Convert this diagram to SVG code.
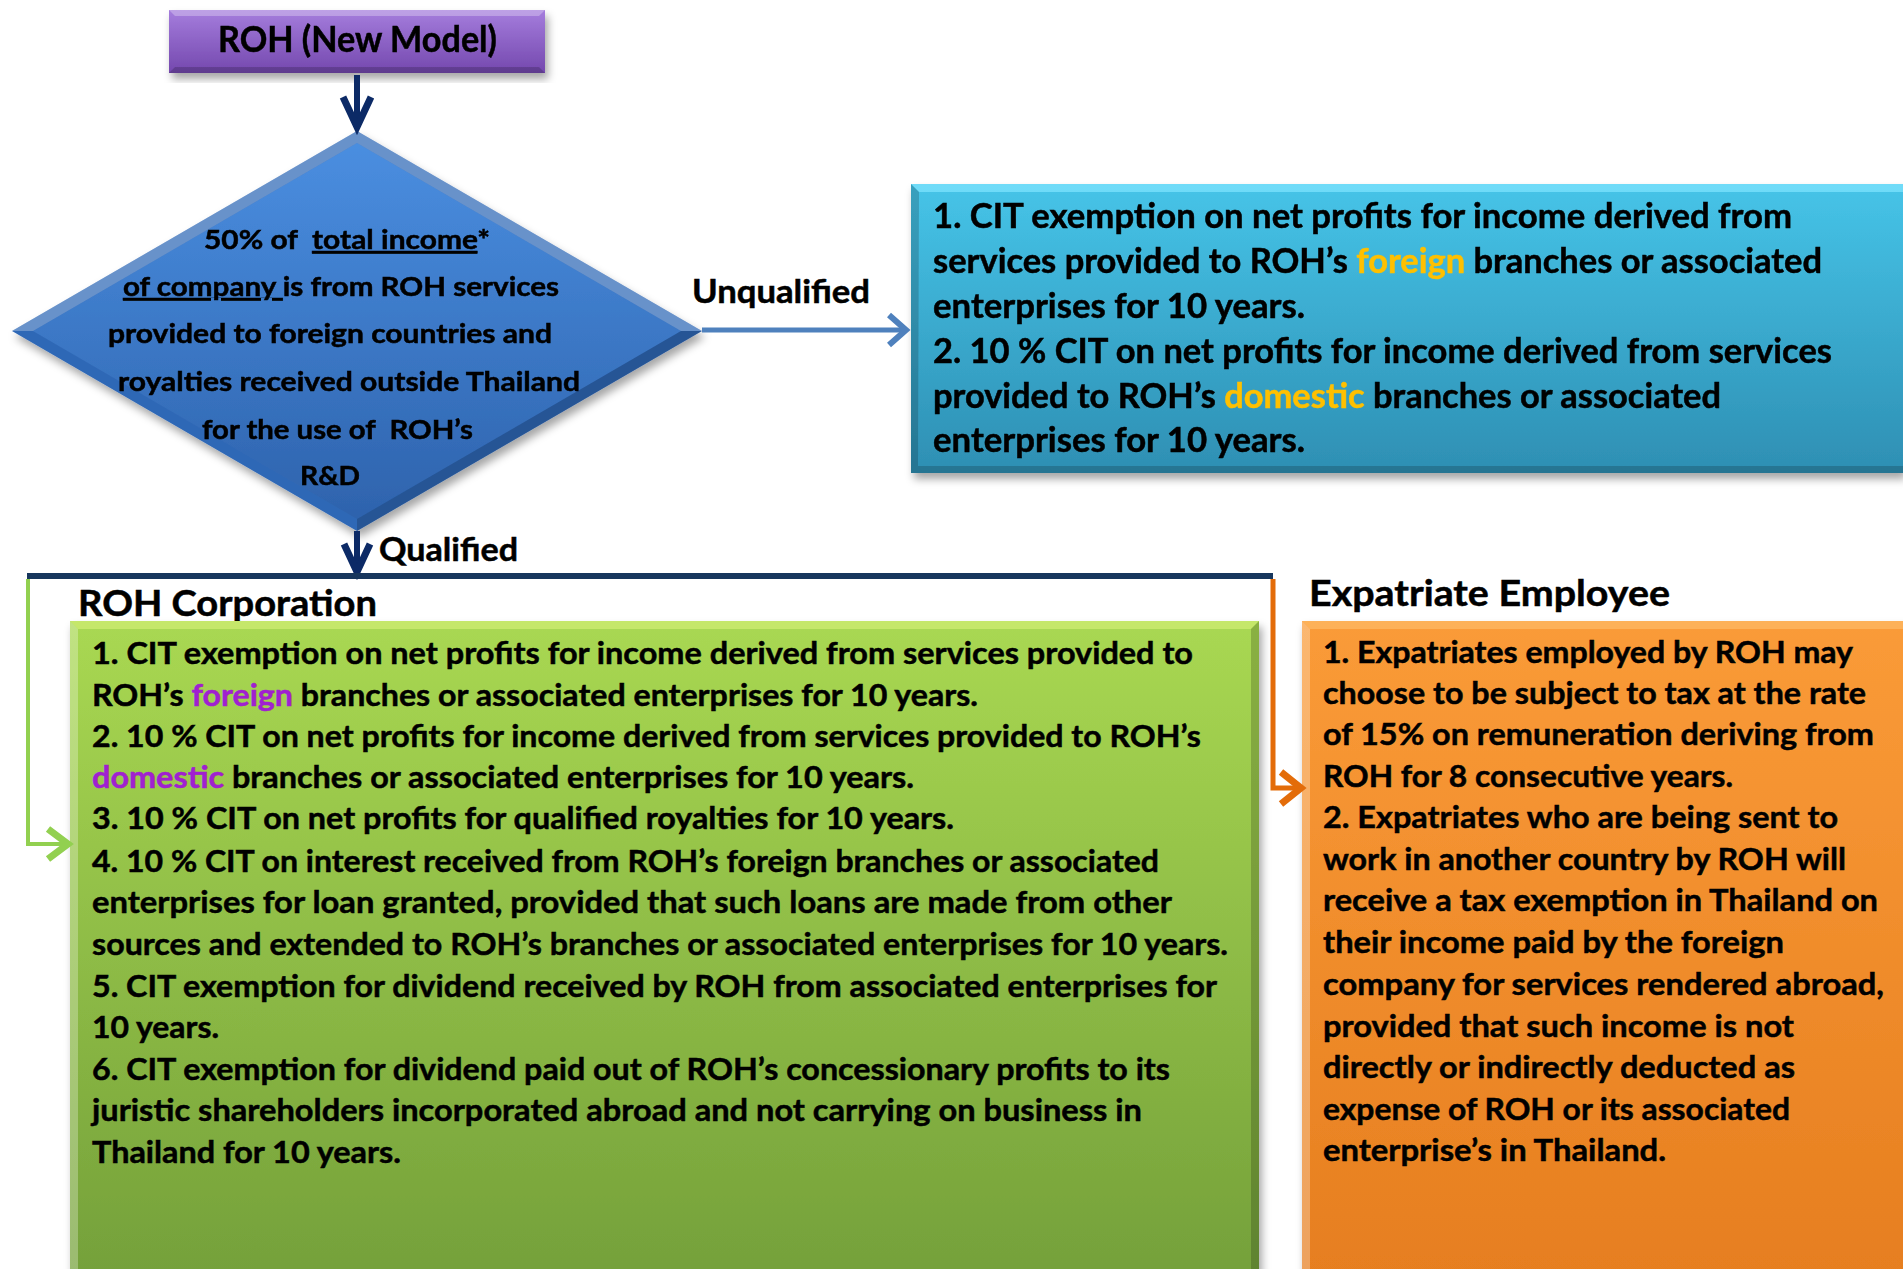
<svg xmlns="http://www.w3.org/2000/svg" width="1903" height="1269" viewBox="0 0 1903 1269">
<style>
text{font-family:Lato,"Open Sans","Liberation Sans",sans-serif;font-weight:700;fill:#000;stroke:#000;stroke-width:0.5;white-space:pre}
.dia{font-size:27px}
.blue{font-size:34px}
.body{font-size:31px}
.title{font-size:37px}
.lbl{font-size:33px}
.ul{text-decoration:underline}
.yel{fill:#ffc000;stroke:#ffc000}
.pur{fill:#a020d0;stroke:#a020d0}
.conn{fill:none;stroke-linecap:butt;stroke-linejoin:miter}
.hl{fill:#ffffff;opacity:0.28}
.dk{fill:#000000;opacity:0.18}
</style>
<defs>
<filter id="sh" x="-5%" y="-5%" width="115%" height="120%">
<feDropShadow dx="3" dy="6" stdDeviation="4" flood-color="#000" flood-opacity="0.35"/>
</filter>
<linearGradient id="gPur" x1="0" y1="0" x2="0" y2="1">
<stop offset="0" stop-color="#a57ddd"/><stop offset="1" stop-color="#7448ae"/>
</linearGradient>
<linearGradient id="gDia" x1="0" y1="0" x2="0" y2="1">
<stop offset="0" stop-color="#4a8ee0"/><stop offset="1" stop-color="#2e63ad"/>
</linearGradient>
<linearGradient id="gBlue" x1="0" y1="0" x2="0" y2="1">
<stop offset="0" stop-color="#46c4e8"/><stop offset="1" stop-color="#2e8fb3"/>
</linearGradient>
<linearGradient id="gGreen" x1="0" y1="0" x2="0" y2="1">
<stop offset="0" stop-color="#a9d852"/><stop offset="1" stop-color="#74a03a"/>
</linearGradient>
<linearGradient id="gOrange" x1="0" y1="0" x2="0" y2="1">
<stop offset="0" stop-color="#fa9b38"/><stop offset="1" stop-color="#e67e1f"/>
</linearGradient>
</defs>

<g id="roh-new-model" filter="url(#sh)">
<rect x="169" y="10" width="376" height="63" fill="url(#gPur)"/>
<polygon class="hl" points="169,10 545,10 539,16 175,16"/>
<polygon class="dk" points="169,73 545,73 539,67 175,67"/>
<text class="title" x="218" y="52" textLength="279" lengthAdjust="spacingAndGlyphs">ROH (New Model)</text>
</g>

<g id="decision" filter="url(#sh)">
<polygon points="357,131 702,331 357,531 12,331" fill="#2f68b6"/>
<polygon points="357,143 681,331 357,519 33,331" fill="url(#gDia)"/>
<polygon class="hl" points="357,131 357,143 33,331 12,331"/>
<polygon class="hl" points="357,131 357,143 681,331 702,331" opacity="0.15"/>
<polygon class="dk" points="357,531 357,519 681,331 702,331"/>
<text class="dia" x="204" y="249" textLength="286" lengthAdjust="spacingAndGlyphs">50% of  <tspan class="ul">total income</tspan>*</text>
<text class="dia" x="123" y="296" textLength="436" lengthAdjust="spacingAndGlyphs"><tspan class="ul">of company </tspan>is from ROH services</text>
<text class="dia" x="108" y="343" textLength="444" lengthAdjust="spacingAndGlyphs">provided to foreign countries and</text>
<text class="dia" x="118" y="391" textLength="462" lengthAdjust="spacingAndGlyphs">royalties received outside Thailand</text>
<text class="dia" x="202" y="439" textLength="271" lengthAdjust="spacingAndGlyphs">for the use of  ROH’s</text>
<text class="dia" x="300" y="485" textLength="60" lengthAdjust="spacingAndGlyphs">R&amp;D</text>
</g>

<g id="unqualified-box" filter="url(#sh)">
<rect x="911" y="184" width="992" height="289" fill="url(#gBlue)"/>
<polygon points="911,184 1903,184 1903,192 919,192" fill="#80e6ff" opacity="0.7"/>
<polygon class="dk" points="911,473 1903,473 1903,466 918,466"/>
<polygon class="dk" points="911,184 919,192 918,466 911,473" opacity="0.1"/>
<text class="blue" x="933" y="228" textLength="859" lengthAdjust="spacingAndGlyphs">1. CIT exemption on net profits for income derived from</text>
<text class="blue" x="933" y="273" textLength="889" lengthAdjust="spacingAndGlyphs">services provided to ROH’s <tspan class="yel">foreign</tspan> branches or associated</text>
<text class="blue" x="933" y="318" textLength="372" lengthAdjust="spacingAndGlyphs">enterprises for 10 years.</text>
<text class="blue" x="933" y="363" textLength="899" lengthAdjust="spacingAndGlyphs">2. 10 % CIT on net profits for income derived from services</text>
<text class="blue" x="933" y="408" textLength="788" lengthAdjust="spacingAndGlyphs">provided to ROH’s <tspan class="yel">domestic</tspan> branches or associated</text>
<text class="blue" x="933" y="452" textLength="372" lengthAdjust="spacingAndGlyphs">enterprises for 10 years.</text>
</g>

<g id="roh-corporation">
<text class="title" x="78" y="616" textLength="299" lengthAdjust="spacingAndGlyphs">ROH Corporation</text>
<g filter="url(#sh)">
<rect x="70" y="621" width="1189" height="660" fill="url(#gGreen)"/>
<polygon points="70,621 1259,621 1251,629 78,629" fill="#d8f27c" opacity="0.6"/>
<polygon class="dk" points="1259,621 1259,1281 1251,1281 1251,629" opacity="0.12"/>
<polygon class="hl" points="70,621 78,629 78,1281 70,1281" opacity="0.15"/>
</g>
<text class="body" x="92" y="664" textLength="1101" lengthAdjust="spacingAndGlyphs">1. CIT exemption on net profits for income derived from services provided to</text>
<text class="body" x="92" y="706" textLength="886" lengthAdjust="spacingAndGlyphs">ROH’s <tspan class="pur">foreign</tspan> branches or associated enterprises for 10 years.</text>
<text class="body" x="92" y="747" textLength="1109" lengthAdjust="spacingAndGlyphs">2. 10 % CIT on net profits for income derived from services provided to ROH’s</text>
<text class="body" x="92" y="788" textLength="822" lengthAdjust="spacingAndGlyphs"><tspan class="pur">domestic</tspan> branches or associated enterprises for 10 years.</text>
<text class="body" x="92" y="829" textLength="862" lengthAdjust="spacingAndGlyphs">3. 10 % CIT on net profits for qualified royalties for 10 years.</text>
<text class="body" x="92" y="872" textLength="1067" lengthAdjust="spacingAndGlyphs">4. 10 % CIT on interest received from ROH’s foreign branches or associated</text>
<text class="body" x="92" y="913" textLength="1080" lengthAdjust="spacingAndGlyphs">enterprises for loan granted, provided that such loans are made from other</text>
<text class="body" x="92" y="955" textLength="1136" lengthAdjust="spacingAndGlyphs">sources and extended to ROH’s branches or associated enterprises for 10 years.</text>
<text class="body" x="92" y="997" textLength="1125" lengthAdjust="spacingAndGlyphs">5. CIT exemption for dividend received by ROH from associated enterprises for</text>
<text class="body" x="92" y="1038" textLength="127" lengthAdjust="spacingAndGlyphs">10 years.</text>
<text class="body" x="92" y="1080" textLength="1078" lengthAdjust="spacingAndGlyphs">6. CIT exemption for dividend paid out of ROH’s concessionary profits to its</text>
<text class="body" x="92" y="1121" textLength="1050" lengthAdjust="spacingAndGlyphs">juristic shareholders incorporated abroad and not carrying on business in</text>
<text class="body" x="92" y="1163" textLength="309" lengthAdjust="spacingAndGlyphs">Thailand for 10 years.</text>
</g>

<g id="expatriate-employee">
<text class="title" x="1309" y="606" textLength="361" lengthAdjust="spacingAndGlyphs">Expatriate Employee</text>
<g filter="url(#sh)">
<rect x="1302" y="621" width="610" height="660" fill="url(#gOrange)"/>
<polygon points="1302,621 1912,621 1912,629 1310,629" fill="#ffc070" opacity="0.6"/>
<polygon class="hl" points="1302,621 1310,629 1310,1281 1302,1281" opacity="0.15"/>
</g>
<text class="body" x="1323" y="663" textLength="530" lengthAdjust="spacingAndGlyphs">1. Expatriates employed by ROH may</text>
<text class="body" x="1323" y="704" textLength="543" lengthAdjust="spacingAndGlyphs">choose to be subject to tax at the rate</text>
<text class="body" x="1323" y="745" textLength="551" lengthAdjust="spacingAndGlyphs">of 15% on remuneration deriving from</text>
<text class="body" x="1323" y="787" textLength="410" lengthAdjust="spacingAndGlyphs">ROH for 8 consecutive years.</text>
<text class="body" x="1323" y="828" textLength="515" lengthAdjust="spacingAndGlyphs">2. Expatriates who are being sent to</text>
<text class="body" x="1323" y="870" textLength="523" lengthAdjust="spacingAndGlyphs">work in another country by ROH will</text>
<text class="body" x="1323" y="911" textLength="555" lengthAdjust="spacingAndGlyphs">receive a tax exemption in Thailand on</text>
<text class="body" x="1323" y="953" textLength="461" lengthAdjust="spacingAndGlyphs">their income paid by the foreign</text>
<text class="body" x="1323" y="995" textLength="561" lengthAdjust="spacingAndGlyphs">company for services rendered abroad,</text>
<text class="body" x="1323" y="1037" textLength="471" lengthAdjust="spacingAndGlyphs">provided that such income is not</text>
<text class="body" x="1323" y="1078" textLength="472" lengthAdjust="spacingAndGlyphs">directly or indirectly deducted as</text>
<text class="body" x="1323" y="1120" textLength="467" lengthAdjust="spacingAndGlyphs">expense of ROH or its associated</text>
<text class="body" x="1323" y="1161" textLength="343" lengthAdjust="spacingAndGlyphs">enterprise’s in Thailand.</text>
</g>

<g id="connectors">
<path class="conn" d="M357,75 V126" stroke="#0c2a66" stroke-width="6"/>
<path class="conn" d="M343,97 L357,127 L371,97" stroke="#0c2a66" stroke-width="7"/>
<path class="conn" d="M702,330 H905" stroke="#4f81bd" stroke-width="5"/>
<path class="conn" d="M889,315 L906,330 L889,345" stroke="#4f81bd" stroke-width="6"/>
<text class="lbl" x="692" y="303" textLength="178" lengthAdjust="spacingAndGlyphs">Unqualified</text>
<path class="conn" d="M357,531 V570" stroke="#0c2a66" stroke-width="6"/>
<path class="conn" d="M344,544 L357,572 L370,544" stroke="#0c2a66" stroke-width="7"/>
<text class="lbl" x="379" y="561" textLength="139" lengthAdjust="spacingAndGlyphs">Qualified</text>
<path class="conn" d="M27,576 H1273" stroke="#17365d" stroke-width="6"/>
<path class="conn" d="M28,579 V844 H66" stroke="#92d050" stroke-width="4"/>
<path class="conn" d="M48,829 L68,844 L48,859" stroke="#92d050" stroke-width="7" stroke-linecap="round"/>
<path class="conn" d="M1273,579 V788 H1298" stroke="#e36c09" stroke-width="5"/>
<path class="conn" d="M1281,772 L1301,788 L1281,804" stroke="#e36c09" stroke-width="7" stroke-linecap="round"/>
</g>
</svg>
